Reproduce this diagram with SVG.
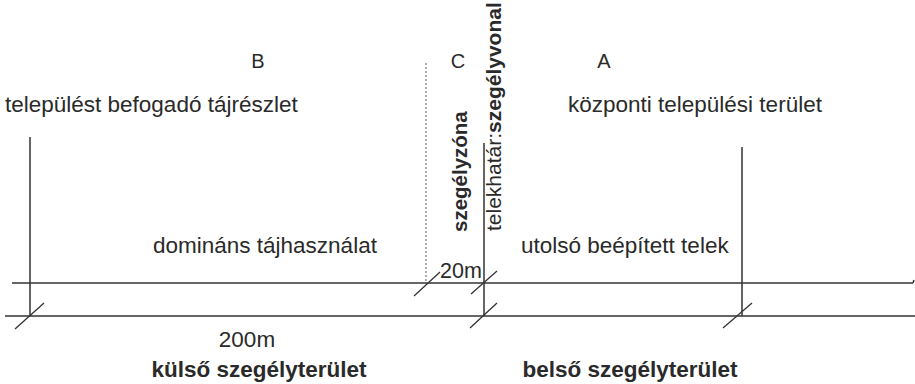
<svg xmlns="http://www.w3.org/2000/svg" width="915" height="384" viewBox="0 0 915 384">
<style>
.t{font-family:"Liberation Sans",Arial,sans-serif;font-size:22.5px;fill:#2a2a2a}
.b{font-weight:bold}
.v{font-size:20.5px}
.ln{stroke:#333;stroke-width:1.5;fill:none}
.tk{stroke:#333;stroke-width:1.3;fill:none}
.dot{stroke:#777;stroke-width:1.2;stroke-dasharray:2 2;fill:none}
</style>
<rect width="915" height="384" fill="#fff"/>
<g id="connectors">
<line class="ln" x1="12" y1="283" x2="913" y2="283"/>
<line class="ln" x1="913" y1="283" x2="914" y2="280"/>
<line class="ln" x1="5" y1="316" x2="915" y2="316"/>
<line class="ln" x1="30" y1="137" x2="30" y2="316"/>
<line class="ln" x1="484" y1="143" x2="484" y2="316"/>
<line class="ln" x1="742" y1="147" x2="742" y2="316"/>
<line class="dot" x1="426" y1="63" x2="426" y2="281"/>
<line class="tk" x1="15" y1="329" x2="44" y2="303"/>
<line class="tk" x1="414" y1="296" x2="440" y2="272"/>
<line class="tk" x1="471" y1="294" x2="497" y2="271"/>
<line class="tk" x1="470" y1="328" x2="497" y2="303"/>
<line class="tk" x1="723" y1="328" x2="752" y2="303"/>
</g>
<g id="zone-B"><text class="t" x="258" y="68" text-anchor="middle" style="font-size:20px">B</text></g>
<g id="zone-C"><text class="t" x="458" y="68" text-anchor="middle" style="font-size:20px">C</text></g>
<g id="zone-A"><text class="t" x="604" y="68" text-anchor="middle" style="font-size:20px">A</text></g>
<g id="tajreszlet"><text class="t" x="5" y="112">települést befogadó tájrészlet</text></g>
<g id="kozponti"><text class="t" x="568" y="112">központi települési terület</text></g>
<g id="dominans"><text class="t" x="153" y="253">domináns tájhasználat</text></g>
<g id="utolso"><text class="t" x="521" y="253">utolsó beépített telek</text></g>
<g id="m20"><text class="t" x="440" y="278" style="font-size:21.5px">20m</text></g>
<g id="m200"><text class="t" x="247" y="347" text-anchor="middle">200m</text></g>
<g id="kulso"><text class="t b" x="259" y="377" text-anchor="middle">külső szegélyterület</text></g>
<g id="belso"><text class="t b" x="630" y="377" text-anchor="middle">belső szegélyterület</text></g>
<g id="szegelyzona"><text class="t b v" transform="translate(467,232) rotate(-90)">szegélyzóna</text></g>
<g id="telekhatar"><text class="t v" transform="translate(501,231) rotate(-90)" style="font-size:21px">telekhatár:<tspan class="b">szegélyvonal</tspan></text></g>
</svg>
